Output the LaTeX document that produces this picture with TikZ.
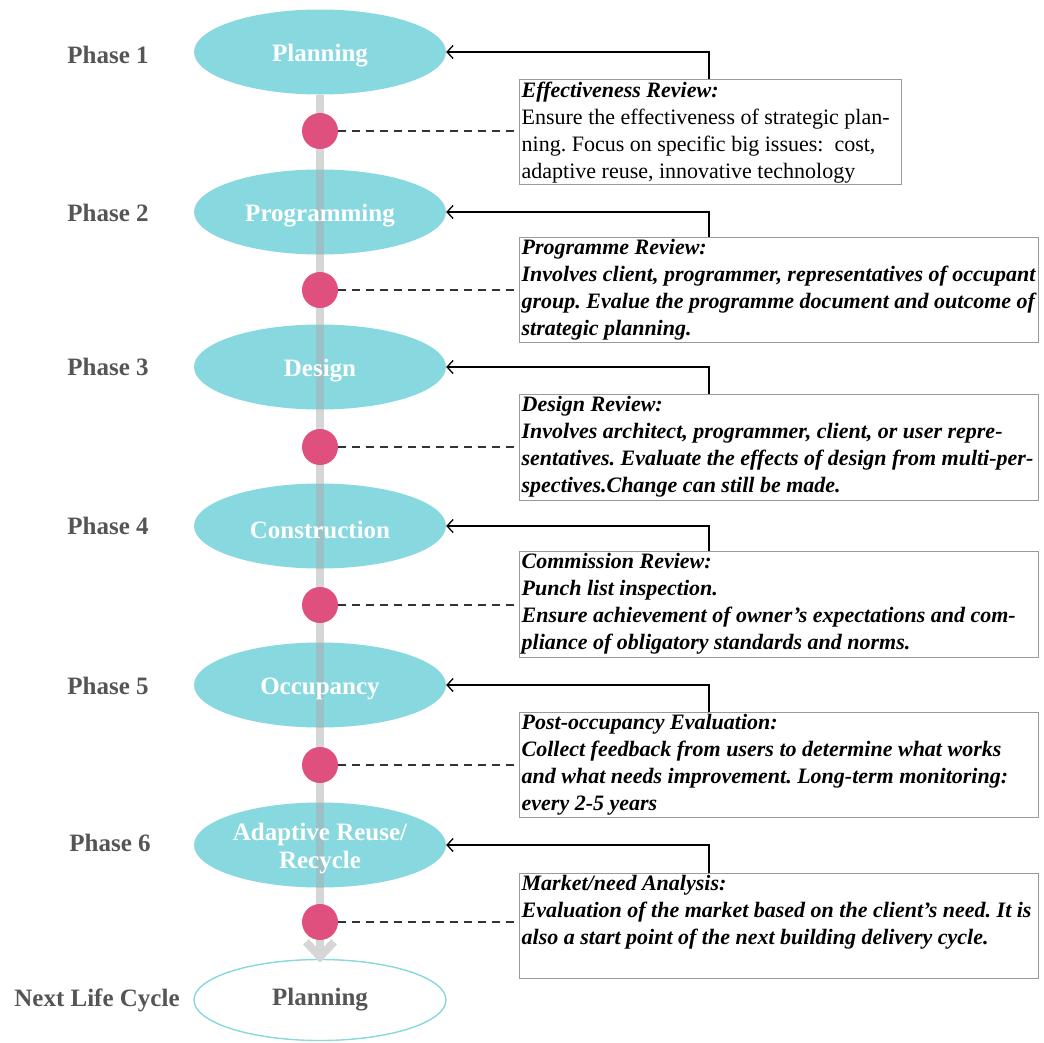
\documentclass[tikz,border=0pt]{standalone}
\usepackage{fontspec}
\setmainfont{Liberation Serif}
\usetikzlibrary{shapes.geometric,arrows.meta,calc}

\definecolor{phasecyan}{HTML}{88D8E0}
\definecolor{dotpink}{HTML}{E0507E}
\definecolor{labelgray}{HTML}{555555}
\definecolor{boxgray}{HTML}{9A9A9A}
\definecolor{spinegray}{HTML}{ADADAD}
\definecolor{tipgray}{HTML}{D6D6D6}

% one line of a review box, as wide as the box
\newcommand\rline[1]{\hbox to \hsize{#1\hfil}}
% review box body: width, height, lines
\newcommand\reviewtext[3]{\parbox[c][#2][t]{#1}{\frenchspacing\fontsize{22}{27}\selectfont #3}}

\begin{document}
\begin{tikzpicture}[x=1pt,y=-1pt,
  phase/.style={ellipse, fill=phasecyan, minimum width=252pt, minimum height=85pt, inner sep=0pt},
  phasetext/.style={font=\fontsize{25}{28}\selectfont\bfseries, text=white, align=center, inner sep=0pt, yshift=-4pt},
  nextphase/.style={ellipse, draw=phasecyan, line width=1.4pt, fill=white, minimum width=252pt, minimum height=81pt, inner sep=0pt,
    font=\fontsize{25}{28}\selectfont\bfseries, text=labelgray},
  phaselabel/.style={font=\fontsize{25}{28}\selectfont\bfseries, text=labelgray, inner sep=0pt},
  review/.style={draw=boxgray, line width=1.3pt, anchor=north west, inner sep=2pt},
  milestone/.style={circle, fill=dotpink, minimum size=36pt, inner sep=0pt},
  feedback/.style={draw=black, line width=1.2pt, -{Straight Barb[length=6pt,width=13pt,line width=1.3pt]}},
  link/.style={draw=black!80, line width=1.6pt, dash pattern=on 8pt off 6pt},
  spine/.style={draw=spinegray, opacity=0.5, line width=8pt},
  chevron/.style={draw=tipgray, line width=8pt}
]
\useasboundingbox (0,0) rectangle (1044,1042);

% phase ellipses
\node[phase] (e1) at (320,52)  {};
\node[phase] (e2) at (320,212) {};
\node[phase] (e3) at (320,367) {};
\node[phase] (e4) at (320,526) {};
\node[phase] (e5) at (320,685) {};
\node[phase] (e6) at (320,845) {};
\node[nextphase] (e7) at (320,1000) {Planning};

% life-cycle spine with its arrowhead
\coordinate (tip) at ($(e7.north)+(0,-2)$);
\draw[spine] (e1.south) -- (tip);
\draw[chevron, line join=miter] ($(tip)+(-14,-15)$) -- (tip) -- ($(tip)+(14,-15)$);

% phase names
\node[phasetext] (p1) at (e1) {Planning};
\node[phasetext] (p2) at (e2) {Programming};
\node[phasetext] (p3) at (e3) {Design};
\node[phasetext] (p4) at (e4) {Construction};
\node[phasetext] (p5) at (e5) {Occupancy};
\node[phasetext] (p6) at (e6) {Adaptive Reuse/\\Recycle};

% phase labels
\node[phaselabel] (l1) at (108,55)  {Phase 1};
\node[phaselabel] (l2) at (108,213) {Phase 2};
\node[phaselabel] (l3) at (108,367) {Phase 3};
\node[phaselabel] (l4) at (108,526) {Phase 4};
\node[phaselabel] (l5) at (108,686) {Phase 5};
\node[phaselabel] (l6) at (110,843) {Phase 6};
\node[phaselabel] (l7) at (97,1000) {Next Life Cycle};

% review milestones
\node[milestone] (d1) at (320,131) {};
\node[milestone] (d2) at (320,290) {};
\node[milestone] (d3) at (320,447) {};
\node[milestone] (d4) at (320,605) {};
\node[milestone] (d5) at (320,765) {};
\node[milestone] (d6) at (320,922) {};

% review boxes
\node[review] (b1) at (519,79) {\reviewtext{378pt}{101pt}{%
  \rline{\textbf{\textit{Effectiveness Review:}}}
  \rline{Ensure the effectiveness of strategic plan-}
  \rline{ning. Focus on specific big issues:\ \ cost,}
  \rline{adaptive reuse, innovative technology}}};
\node[review] (b2) at (519,237) {\reviewtext{515pt}{101pt}{\bfseries\itshape
  \rline{Programme Review:}
  \rline{Involves client, programmer, representatives of occupant}
  \rline{group. Evalue the programme document and outcome of}
  \rline{strategic planning.}}};
\node[review] (b3) at (519,394) {\reviewtext{515pt}{102pt}{\bfseries\itshape
  \rline{Design Review:}
  \rline{Involves architect, programmer, client, or user repre-}
  \rline{sentatives. Evaluate the effects of design from multi-per-}
  \rline{spectives.Change can still be made.}}};
\node[review] (b4) at (519,551) {\reviewtext{515pt}{102pt}{\bfseries\itshape
  \rline{Commission Review:}
  \rline{Punch list inspection.}
  \rline{Ensure achievement of owner’s expectations and com-}
  \rline{pliance of obligatory standards and norms.}}};
\node[review] (b5) at (519,712) {\reviewtext{515pt}{101pt}{\bfseries\itshape
  \rline{Post-occupancy Evaluation:}
  \rline{Collect feedback from users to determine what works}
  \rline{and what needs improvement. Long-term monitoring:}
  \rline{every 2-5 years}}};
\node[review] (b6) at (519,873) {\reviewtext{515pt}{101pt}{\bfseries\itshape
  \rline{Market/need Analysis:}
  \rline{Evaluation of the market based on the client’s need. It is}
  \rline{also a start point of the next building delivery cycle.}}};

% feedback arrows from each review back to its phase
\draw[feedback] ([xshift=190pt]b1.north west) |- (e1.east);
\draw[feedback] ([xshift=190pt]b2.north west) |- (e2.east);
\draw[feedback] ([xshift=190pt]b3.north west) |- (e3.east);
\draw[feedback] ([xshift=190pt]b4.north west) |- (e4.east);
\draw[feedback] ([xshift=190pt]b5.north west) |- (e5.east);
\draw[feedback] ([xshift=190pt]b6.north west) |- (e6.east);

% dashed links from milestones to reviews
\draw[link] (d1.east) -- (d1.east -| b1.west);
\draw[link] (d2.east) -- (d2.east -| b2.west);
\draw[link] (d3.east) -- (d3.east -| b3.west);
\draw[link] (d4.east) -- (d4.east -| b4.west);
\draw[link] (d5.east) -- (d5.east -| b5.west);
\draw[link] (d6.east) -- (d6.east -| b6.west);
\end{tikzpicture}
\end{document}
